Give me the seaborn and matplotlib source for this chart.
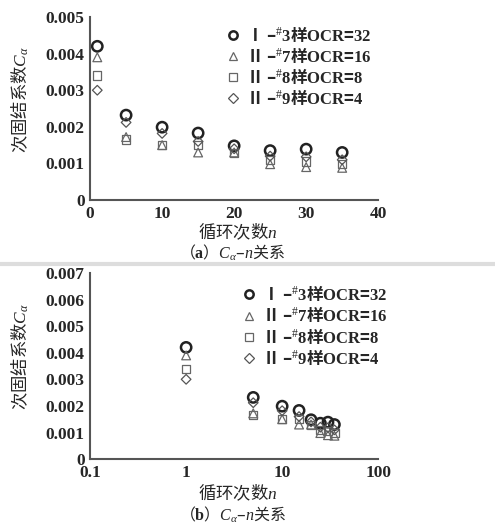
import matplotlib
matplotlib.use("Agg")
import matplotlib.pyplot as plt
import seaborn as sns
import pandas as pd
from matplotlib.lines import Line2D

sns.set_style("white")
plt.rcParams['font.family'] = ['Liberation Serif', 'Noto Sans CJK SC', 'DejaVu Sans']
# math parts in serif; plain parts of mixed strings use the CJK family
plt.rcParams['mathtext.fontset'] = 'custom'
plt.rcParams['mathtext.rm'] = 'Liberation Serif'
plt.rcParams['mathtext.it'] = 'Liberation Serif:italic'
plt.rcParams['mathtext.bf'] = 'Liberation Serif:bold'
CJK = 'Noto Sans CJK SC'

# cycles
n = [1, 5, 10, 15, 20, 25, 30, 35]
# secondary consolidation coefficient per sample
c_3 = [0.0042, 0.00232, 0.00199, 0.00183, 0.00148, 0.00135, 0.00139, 0.0013]
c_7 = [0.0039, 0.00172, 0.0015, 0.0013, 0.0013, 0.00098, 0.0009, 0.00088]
c_8 = [0.0034, 0.00165, 0.0015, 0.0015, 0.00128, 0.0011, 0.00105, 0.00098]
c_9 = [0.0030, 0.00212, 0.00182, 0.0016, 0.0014, 0.0012, 0.00118, 0.0011]

labels = ["Ⅰ –$^{\\#}\\mathbf{3}$样$\\mathbf{OCR}$=$\\mathbf{32}$",
          "Ⅱ –$^{\\#}\\mathbf{7}$样$\\mathbf{OCR}$=$\\mathbf{16}$",
          "Ⅱ –$^{\\#}\\mathbf{8}$样$\\mathbf{OCR}$=$\\mathbf{8}$",
          "Ⅱ –$^{\\#}\\mathbf{9}$样$\\mathbf{OCR}$=$\\mathbf{4}$"]
series = [c_3, c_7, c_8, c_9]
markers = ["o", "^", "s", "D"]
sizes = [55, 40, 36, 24]
edges = ["#222222", "#666666", "#666666", "#555555"]
widths = [1.8, 0.9, 0.9, 0.9]

fig = plt.figure(figsize=(4.95, 5.32), dpi=100)
ax1 = fig.add_axes([0.182, 0.624, 0.582, 0.344])
ax2 = fig.add_axes([0.182, 0.137, 0.582, 0.350])

for ax in (ax1, ax2):
    for lab, vals, m, s, ec, lw in zip(labels, series, markers, sizes, edges, widths):
        df = pd.DataFrame({"n": n, "c": vals})
        sns.scatterplot(data=df, x="n", y="c", ax=ax, marker=m, s=s,
                        facecolors="none", edgecolor=ec, linewidth=lw, legend=False)
    for sp in ["top", "right"]:
        ax.spines[sp].set_visible(False)
    for sp in ["left", "bottom"]:
        ax.spines[sp].set_color("#555555")
        ax.spines[sp].set_linewidth(1.5)
    ax.tick_params(direction="in", length=5, width=1.2, color="#555555",
                   labelsize=12.5, pad=4)
    ax.set_xlabel("")
    ax.set_ylabel("次固结系数$C_\\alpha$", fontsize=12.5, family=CJK)
    ax.yaxis.set_label_coords(-0.205, 0.55)

handles = [Line2D([], [], ls="none", marker=m, markersize=ms, markerfacecolor="none",
                  markeredgecolor=ec, markeredgewidth=lw)
           for m, ms, ec, lw in zip(markers, [6, 6, 5.5, 5], edges, widths)]
leg_font = {"family": CJK, "weight": "bold", "size": 12}
ax1.legend(handles, labels, frameon=False, handletextpad=0.3, labelspacing=0.07,
           handlelength=1.0, prop=leg_font, loc="upper left", bbox_to_anchor=(0.415, 1.04))
ax2.legend(handles, labels, frameon=False, handletextpad=0.3, labelspacing=0.07,
           handlelength=1.0, prop=leg_font, loc="upper left", bbox_to_anchor=(0.47, 1.02))

ax1.set_xlim(0, 40)
ax1.set_ylim(0, 0.005)
ax1.set_xticks([0, 10, 20, 30, 40])
ax1.set_yticks([0, 0.001, 0.002, 0.003, 0.004, 0.005])
ax1.set_yticklabels(["0", "0.001", "0.002", "0.003", "0.004", "0.005"], fontweight="bold")
ax1.set_xticklabels(["0", "10", "20", "30", "40"], fontweight="bold")

ax2.set_xscale("log")
ax2.set_xlim(0.1, 100)
ax2.set_ylim(0, 0.007)
ax2.set_xticks([0.1, 1, 10, 100])
ax2.set_xticklabels(["0.1", "1", "10", "100"], fontweight="bold")
ax2.minorticks_off()
ax2.set_yticks([0, 0.001, 0.002, 0.003, 0.004, 0.005, 0.006, 0.007])
ax2.set_yticklabels(["0", "0.001", "0.002", "0.003", "0.004", "0.005", "0.006", "0.007"],
                    fontweight="bold")

fig.text(0.48, 1 - 232 / 532, "循环次数$n$", ha="center", va="center", fontsize=12.5, family=CJK)
fig.text(0.47, 1 - 253 / 532, "（$\\mathbf{a}$）$C_\\alpha$–$n$关系", ha="center", va="center",
         fontsize=11.5, family=CJK)
fig.text(0.48, 1 - 493 / 532, "循环次数$n$", ha="center", va="center", fontsize=12.5, family=CJK)
fig.text(0.47, 1 - 515 / 532, "（$\\mathbf{b}$）$C_\\alpha$–$n$关系", ha="center", va="center",
         fontsize=11.5, family=CJK)
fig.add_artist(Line2D([0, 1], [1 - 264 / 532] * 2, color="#dddddd", lw=3,
                      transform=fig.transFigure))

fig.savefig("out.png", dpi=100)
